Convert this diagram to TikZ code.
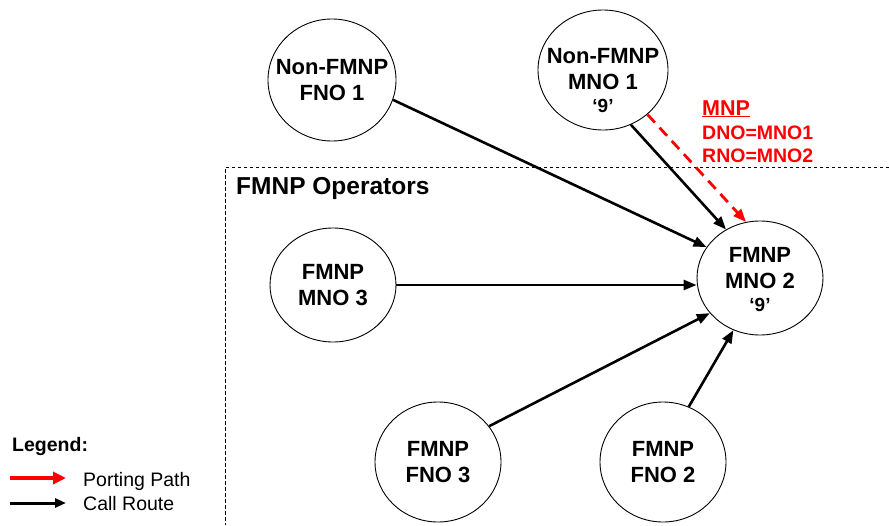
\documentclass[tikz,border=0pt]{standalone}
\usepackage{fontspec}
\setmainfont{Liberation Sans}
\usetikzlibrary{shapes.geometric,arrows.meta}
\begin{document}
\begin{tikzpicture}[x=1pt,y=-1pt,
  op/.style={ellipse,draw,line width=0.9pt,inner sep=0pt},
  optext/.style={align=center,inner sep=0pt,font=\bfseries\fontsize{22}{26}\selectfont},
  call/.style={line width=2.6pt,-{Triangle[length=13pt,width=10pt]}},
  port/.style={red,line width=2.8pt,dash pattern=on 11pt off 7pt,-{Triangle[length=13pt,width=10pt]}},
  mnptext/.style={red,anchor=base west,inner sep=0pt,font=\bfseries\fontsize{19.5}{22}\selectfont},
  legtext/.style={anchor=west,inner sep=0pt,font=\fontsize{19.5}{22}\selectfont},
]
\useasboundingbox (0,0) rectangle (889,525);

% dashed region
\coordinate (boxtr) at (889,167);
\coordinate (boxtl) at (225,167);
\coordinate (boxbl) at (225,525);
\draw[line width=0.9pt,dash pattern=on 3.5pt off 2.5pt] (boxtr) -- (boxtl) -- (boxbl);
\node[anchor=base west,inner sep=0pt,font=\bfseries\fontsize{24.5}{28}\selectfont] (ops) at (236,194) {FMNP Operators};

% operators
\node[op,minimum width=128pt,minimum height=122pt] (fno1) at (332,80) {};
\node[optext] (fno1t) at (fno1.center) {Non-FMNP\\FNO 1};

\node[op,minimum width=130pt,minimum height=120pt] (mno1) at (603,70) {};
\node[optext] (mno1t) at ([yshift=-11pt]mno1.center) {Non-FMNP\\MNO 1\\[-3pt]{\fontsize{19}{22}\selectfont ‘9’}};

\node[op,minimum width=126pt,minimum height=114pt] (mno2) at (760,278) {};
\node[optext] (mno2t) at ([yshift=-2pt]mno2.center) {FMNP\\MNO 2\\[-3pt]{\fontsize{19}{22}\selectfont ‘9’}};

\node[op,minimum width=126pt,minimum height=114pt] (mno3) at (333,285) {};
\node[optext] (mno3t) at (mno3.center) {FMNP\\MNO 3};

\node[op,minimum width=126pt,minimum height=120pt] (fno3) at (438,462) {};
\node[optext] (fno3t) at (fno3.center) {FMNP\\FNO 3};

\node[op,minimum width=126pt,minimum height=120pt] (fno2) at (663,462) {};
\node[optext] (fno2t) at (fno2.center) {FMNP\\FNO 2};

% connectors
\draw[call] (fno1.-18) -- (mno2.150);
\draw[call] (mno1.-63) -- (mno2.125);
\draw[port] (mno1.-45) -- (mno2.104);
\draw[call] (mno3.east) -- (mno3.east -| mno2.west);
\draw[call] (fno3.35) -- (mno2.-145);
\draw[call] (fno2.65) -- (mno2.-117);

% MNP label
\node[mnptext,font=\bfseries\fontsize{21.5}{24}\selectfont] (mnp) at (702,115) {\underline{MNP}};
\node[mnptext] (dno) at (702,139) {DNO=MNO1};
\node[mnptext] (rno) at (702,162) {RNO=MNO2};

% legend
\node[anchor=base west,inner sep=0pt,font=\bfseries\fontsize{19.5}{22}\selectfont] (leg) at (12,451) {Legend:};
\coordinate (lr1) at (10,478);
\coordinate (lr2) at (66,478);
\coordinate (lb1) at (10,503);
\coordinate (lb2) at (66,503);
\draw[red,line width=4.5pt,-{Triangle[length=13pt,width=12pt]}] (lr1) -- (lr2);
\draw[line width=3pt,-{Triangle[length=11pt,width=9pt]}] (lb1) -- (lb2);
\node[legtext] (porting) at (83,481) {Porting Path};
\node[legtext] (callr) at (83,504) {Call Route};
\end{tikzpicture}
\end{document}
